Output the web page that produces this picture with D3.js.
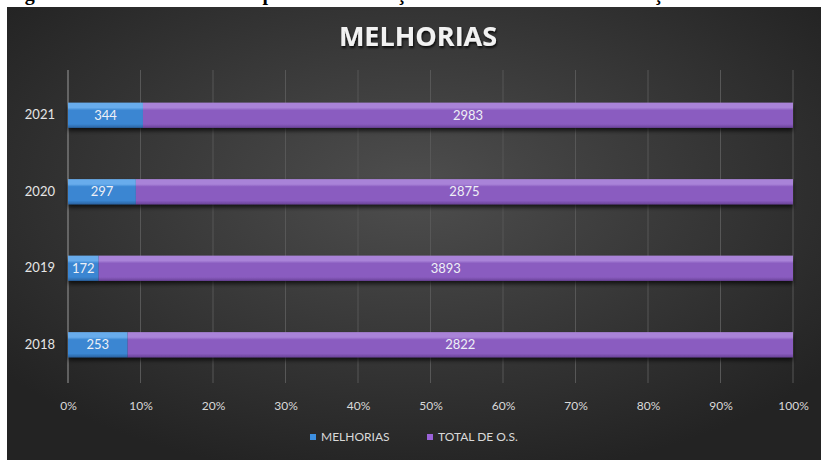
<!DOCTYPE html>
<html>
<head>
<meta charset="utf-8">
<script src="https://cdn.jsdelivr.net/npm/d3@7"></script>
<style>
  body { margin: 0; background: #fff; }
  svg text { font-family: Lato, "Open Sans", sans-serif; }
</style>
</head>
<body>
<div id="chart"></div>
<script>
const years = ['2021', '2020', '2019', '2018'];
const melhorias = [344, 297, 172, 253];
const totalOS = [2983, 2875, 3893, 2822];
const xTicks = [0, 0.1, 0.2, 0.3, 0.4, 0.5, 0.6, 0.7, 0.8, 0.9, 1];
const seriesNames = ['MELHORIAS', 'TOTAL DE O.S.'];

const width = 821;
const height = 460;
const plot = { left: 68, right: 793, top: 77, bottom: 383 };

const svg = d3.select('#chart').append('svg')
  .attr('width', width)
  .attr('height', height);

const defs = svg.append('defs');

const bg = defs.append('radialGradient')
  .attr('id', 'bg')
  .attr('cx', '50%').attr('cy', '40%').attr('r', '65%');
bg.append('stop').attr('offset', '0%').attr('stop-color', '#4e4e4e');
bg.append('stop').attr('offset', '100%').attr('stop-color', '#232323');

function barGradient(id, light, base, dark) {
  const g = defs.append('linearGradient')
    .attr('id', id)
    .attr('x1', 0).attr('y1', 0).attr('x2', 0).attr('y2', 1);
  g.append('stop').attr('offset', '0%').attr('stop-color', light);
  g.append('stop').attr('offset', '20%').attr('stop-color', light);
  g.append('stop').attr('offset', '30%').attr('stop-color', base);
  g.append('stop').attr('offset', '85%').attr('stop-color', base);
  g.append('stop').attr('offset', '100%').attr('stop-color', dark);
}
barGradient('blue', '#68acec', '#3a86d2', '#2a62a0');
barGradient('purple', '#a983d8', '#8a5cc0', '#6a4298');

const shadow = defs.append('filter').attr('id', 'shadow')
  .attr('x', '-10%').attr('y', '-30%').attr('width', '120%').attr('height', '180%');
shadow.append('feDropShadow')
  .attr('dx', 0).attr('dy', 3).attr('stdDeviation', 2)
  .attr('flood-color', '#000').attr('flood-opacity', 0.7);

const textShadow = defs.append('filter').attr('id', 'tshadow');
textShadow.append('feDropShadow')
  .attr('dx', 1).attr('dy', 2).attr('stdDeviation', 1)
  .attr('flood-color', '#000').attr('flood-opacity', 0.8);

// caption strip, cut off at the top in the original
defs.append('clipPath').attr('id', 'capclip')
  .append('rect').attr('x', 0).attr('y', 0).attr('width', width).attr('height', 7);
svg.append('text')
  .attr('clip-path', 'url(#capclip)')
  .attr('x', 7).attr('y', -0.5)
  .style('font-family', '"Liberation Serif", serif')
  .style('font-weight', 'bold')
  .style('font-size', '20px')
  .attr('fill', '#000')
  .text('Figura 4 – Total de melhorias por ano em relação ao total de ordens de serviço');

svg.append('rect')
  .attr('x', 7).attr('y', 7)
  .attr('width', width - 7).attr('height', height - 7)
  .attr('fill', 'url(#bg)');

svg.append('text')
  .attr('x', 418).attr('y', 46)
  .attr('text-anchor', 'middle')
  .attr('fill', '#f2f2f2')
  .attr('filter', 'url(#tshadow)')
  .style('font-family', '"Open Sans", sans-serif')
  .style('font-weight', 'bold')
  .style('font-size', '27px')
  .text('MELHORIAS');

const x = d3.scaleLinear().domain([0, 1]).range([plot.left, plot.right]);
const y = d3.scaleBand().domain(years)
  .range([plot.top, plot.bottom])
  .paddingInner(0.67).paddingOuter(0.335);

// gridlines
svg.append('g')
  .selectAll('line')
  .data(xTicks)
  .enter()
  .append('line')
  .attr('x1', (d) => x(d)).attr('x2', (d) => x(d))
  .attr('y1', 70).attr('y2', plot.bottom)
  .attr('stroke', (d) => (d === 0 ? '#9a9a9a' : '#575757'))
  .attr('stroke-width', 1);

const xAxis = svg.append('g')
  .attr('transform', `translate(0,${plot.bottom})`)
  .call(d3.axisBottom(x).tickValues(xTicks).tickFormat(d3.format('.0%')).tickSize(0).tickPadding(18));
xAxis.select('.domain').remove();
xAxis.selectAll('text').attr('fill', '#d9d9d9').style('font-size', '12px');

const yAxis = svg.append('g')
  .attr('transform', `translate(${plot.left},0)`)
  .call(d3.axisLeft(y).tickSize(0).tickPadding(13));
yAxis.select('.domain').remove();
yAxis.selectAll('text').attr('fill', '#e6e6e6').style('font-size', '13px');

const rows = years.map((yr, i) => {
  const tot = melhorias[i] + totalOS[i];
  return { year: yr, m: melhorias[i], t: totalOS[i], pm: melhorias[i] / tot };
});

const bars = svg.append('g').attr('filter', 'url(#shadow)');
bars.selectAll('rect.m')
  .data(rows)
  .enter()
  .append('rect')
  .attr('class', 'm')
  .attr('x', x(0))
  .attr('y', (d) => y(d.year))
  .attr('width', (d) => x(d.pm) - x(0))
  .attr('height', y.bandwidth())
  .attr('fill', 'url(#blue)');
bars.selectAll('rect.t')
  .data(rows)
  .enter()
  .append('rect')
  .attr('class', 't')
  .attr('x', (d) => x(d.pm))
  .attr('y', (d) => y(d.year))
  .attr('width', (d) => x(1) - x(d.pm))
  .attr('height', y.bandwidth())
  .attr('fill', 'url(#purple)');

const labels = svg.append('g')
  .attr('text-anchor', 'middle')
  .attr('fill', '#eef0f6')
  .style('font-size', '13px');
labels.selectAll('text.m')
  .data(rows)
  .enter()
  .append('text')
  .attr('x', (d) => (x(0) + x(d.pm)) / 2)
  .attr('y', (d) => y(d.year) + y.bandwidth() / 2)
  .attr('dy', '0.36em')
  .text((d) => d.m);
labels.selectAll('text.t')
  .data(rows)
  .enter()
  .append('text')
  .attr('x', (d) => (x(d.pm) + x(1)) / 2)
  .attr('y', (d) => y(d.year) + y.bandwidth() / 2)
  .attr('dy', '0.36em')
  .text((d) => d.t);

// legend
const legendColors = ['#3d8fe0', '#9a62d8'];
const legendX = [313, 430];
const legend = svg.append('g');
seriesNames.forEach((name, i) => {
  legend.append('rect')
    .attr('x', legendX[i] - 3).attr('y', 434)
    .attr('width', 6).attr('height', 6)
    .attr('fill', legendColors[i]);
  legend.append('text')
    .attr('x', legendX[i] + 8).attr('y', 441)
    .attr('fill', '#d9d9d9')
    .style('font-size', '12px')
    .text(name);
});
</script>
</body>
</html>
